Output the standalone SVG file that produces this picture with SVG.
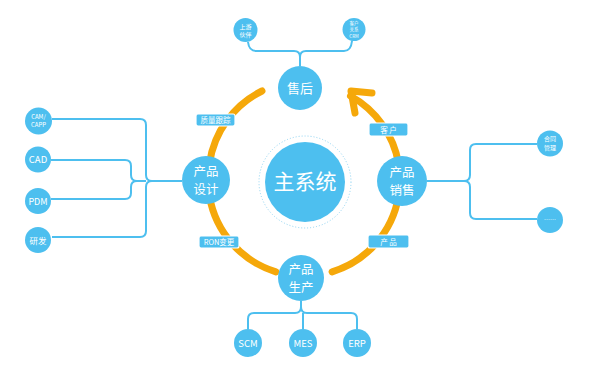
<svg xmlns="http://www.w3.org/2000/svg" width="591" height="371" viewBox="0 0 591 371">
<defs>
<style>
.node{fill:#4DBFEF}
.ring{fill:none;stroke:#F5A80A;stroke-width:7;stroke-linecap:round;stroke-linejoin:round}
.conn{fill:none;stroke:#4DBFEF;stroke-width:2}
.t{fill:#fff;font-family:"Noto Sans CJK SC","Liberation Sans",sans-serif;text-anchor:middle}
.lab{fill:#4DBFEF;stroke:#fff;stroke-width:1.2}
</style>
</defs>
<rect width="591" height="371" fill="#fff"/>
<g id="ring">
<path class="ring" d="M 262 91 A 96 96 0 0 0 209.5 163.3"/>
<path class="ring" d="M 209.5 196.7 A 96 96 0 0 0 275.9 271.8"/>
<path class="ring" d="M 332.1 271.8 A 96 96 0 0 0 398.5 196.7"/>
<path class="ring" d="M 398.5 163.3 A 96 96 0 0 0 350.5 96"/>
<polyline class="ring" points="372,93 351,91 355,113"/>
</g>
<g id="connectors">
<path class="conn" d="M 52 119 H 140 Q 146 119 146 125 V 175 Q 146 181 152 181 M 52 237 H 140 Q 146 237 146 231 V 187 Q 146 181 152 181 H 182"/>
<path class="conn" d="M 51 160 H 125 Q 131 160 131 166 V 175 Q 131 181 137 181 H 146 M 51 199 H 125 Q 131 199 131 193 V 187 Q 131 181 137 181"/>
<path class="conn" d="M 427 181 H 464 Q 470 181 470 175 V 150 Q 470 144 476 144 H 537 M 464 181 Q 470 181 470 187 V 213 Q 470 219 476 219 H 537"/>
<path class="conn" d="M 300 66 V 57 Q 300 51 294 51 H 256 Q 249 51 248 42 M 300 57 Q 300 51 306 51 H 344 Q 351 51 352 41"/>
<path class="conn" d="M 301 301 V 307 Q 301 313 295 313 H 254 Q 248 313 248 319 V 329 M 301 307 Q 301 313 307 313 H 351 Q 357 313 357 319 V 329 M 303 313 V 329"/>
</g>
<g id="main">
<circle cx="305" cy="182" r="46" fill="none" stroke="#8DD3F2" stroke-width="1" stroke-dasharray="1 2"/>
<circle class="node" cx="305" cy="182" r="40"/>
<text class="t" x="305" y="189" font-size="21">主系统</text>
</g>
<g id="shouhou">
<circle class="node" cx="300" cy="88" r="22"/>
<text class="t" x="300" y="93" font-size="13">售后</text>
</g>
<g id="sheji">
<circle class="node" cx="206" cy="180" r="24"/>
<text class="t" x="206" y="176" font-size="12.5">产品</text>
<text class="t" x="206" y="193.5" font-size="12.5">设计</text>
</g>
<g id="xiaoshou">
<circle class="node" cx="402" cy="181" r="25"/>
<text class="t" x="402" y="177" font-size="12.5">产品</text>
<text class="t" x="402" y="194.5" font-size="12.5">销售</text>
</g>
<g id="shengchan">
<circle class="node" cx="301" cy="278" r="23"/>
<text class="t" x="301" y="274" font-size="12.5">产品</text>
<text class="t" x="301" y="291.5" font-size="12.5">生产</text>
</g>
<g id="label-zhiliang">
<rect class="lab" x="196" y="114" width="39" height="12" rx="2"/>
<text class="t" x="215.5" y="123" font-size="7.5">质量跟踪</text>
</g>
<g id="label-kehu">
<rect class="lab" x="369" y="123" width="39" height="13" rx="2"/>
<text class="t" x="388.5" y="132.5" font-size="7.5">客 户</text>
</g>
<g id="label-ron">
<rect class="lab" x="199" y="236" width="40" height="12" rx="2"/>
<text class="t" x="219" y="245" font-size="7.5">RON变更</text>
</g>
<g id="label-chanpin">
<rect class="lab" x="368" y="235" width="41" height="13" rx="2"/>
<text class="t" x="388.5" y="244.5" font-size="7.5">产 品</text>
</g>
<g id="shangyou">
<circle class="node" cx="245.5" cy="30" r="12"/>
<text class="t" x="245.5" y="28.5" font-size="6">上游</text>
<text class="t" x="245.5" y="37" font-size="6">伙伴</text>
</g>
<g id="crm">
<circle class="node" cx="354" cy="29.5" r="11.5"/>
<text class="t" x="354" y="25" font-size="4.5">客户</text>
<text class="t" x="354" y="31.3" font-size="4.5">关系</text>
<text class="t" x="354" y="37.6" font-size="4.5">CRM</text>
</g>
<g id="camcapp">
<circle class="node" cx="38.5" cy="121" r="13.5"/>
<text class="t" x="38.5" y="118.5" font-size="6">CAM/</text>
<text class="t" x="38.5" y="126.9" font-size="6">CAPP</text>
</g>
<g id="cad">
<circle class="node" cx="38" cy="159.5" r="13"/>
<text class="t" x="38" y="163" font-size="9.5">CAD</text>
</g>
<g id="pdm">
<circle class="node" cx="38" cy="201" r="13"/>
<text class="t" x="38" y="204.5" font-size="9">PDM</text>
</g>
<g id="yanfa">
<circle class="node" cx="38" cy="240" r="13"/>
<text class="t" x="38" y="243.5" font-size="8.5">研发</text>
</g>
<g id="hetong">
<circle class="node" cx="550" cy="143.5" r="13"/>
<text class="t" x="550" y="141" font-size="6">合同</text>
<text class="t" x="550" y="149.5" font-size="6">管理</text>
</g>
<g id="more">
<circle class="node" cx="550" cy="220" r="13"/>
<text class="t" x="550" y="222" font-size="6">……</text>
</g>
<g id="scm">
<circle class="node" cx="248" cy="343" r="14"/>
<text class="t" x="248" y="346.5" font-size="9.5">SCM</text>
</g>
<g id="mes">
<circle class="node" cx="303" cy="343" r="14"/>
<text class="t" x="303" y="346.5" font-size="9.5">MES</text>
</g>
<g id="erp">
<circle class="node" cx="357" cy="343" r="14"/>
<text class="t" x="357" y="346.5" font-size="9.5">ERP</text>
</g>
</svg>
